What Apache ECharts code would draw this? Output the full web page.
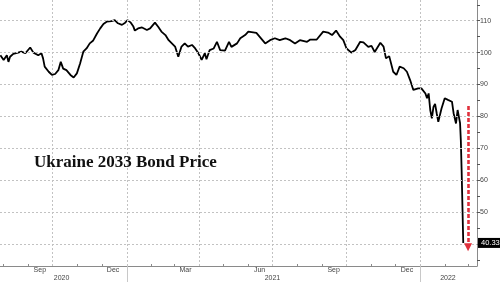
<!DOCTYPE html>
<html><head><meta charset="utf-8">
<script src="https://cdn.jsdelivr.net/npm/echarts@6/dist/echarts.min.js"></script>
<style>html,body{margin:0;padding:0;background:#fff}#c{width:500px;height:282px}</style>
</head><body><div id="c"></div>
<script>
const dates = [
'2020-07-28','2020-08-01','2020-08-05','2020-08-07','2020-08-09','2020-08-13','2020-08-19','2020-08-23','2020-08-28',
'2020-09-03','2020-09-07','2020-09-13','2020-09-17','2020-09-19','2020-09-21','2020-09-26','2020-09-30',
'2020-10-04','2020-10-08','2020-10-11','2020-10-14','2020-10-18','2020-10-23','2020-10-27','2020-10-31',
'2020-11-04','2020-11-08','2020-11-12','2020-11-16','2020-11-20','2020-11-25','2020-11-29',
'2020-12-03','2020-12-07','2020-12-13','2020-12-17','2020-12-21','2020-12-26','2020-12-30',
'2021-01-02','2021-01-06','2021-01-09','2021-01-11','2021-01-15','2021-01-20','2021-01-26','2021-01-30',
'2021-02-05','2021-02-09','2021-02-13','2021-02-18','2021-02-22','2021-02-26',
'2021-03-02','2021-03-06','2021-03-10','2021-03-14','2021-03-18','2021-03-23','2021-03-27','2021-03-31',
'2021-04-04','2021-04-08','2021-04-10','2021-04-14','2021-04-19','2021-04-23','2021-04-27',
'2021-05-03','2021-05-08','2021-05-11','2021-05-18','2021-05-22','2021-05-28',
'2021-06-01','2021-06-03','2021-06-11','2021-06-22','2021-06-28',
'2021-07-04','2021-07-10','2021-07-17','2021-07-23','2021-07-29',
'2021-08-04','2021-08-13','2021-08-17','2021-08-25',
'2021-09-02','2021-09-08','2021-09-13','2021-09-18','2021-09-23','2021-09-27',
'2021-10-01','2021-10-07','2021-10-12','2021-10-18','2021-10-22','2021-10-28',
'2021-11-01','2021-11-05','2021-11-12','2021-11-16','2021-11-19','2021-11-23','2021-11-28',
'2021-12-02','2021-12-06','2021-12-11','2021-12-15','2021-12-19','2021-12-23','2021-12-29',
'2022-01-02','2022-01-07','2022-01-09','2022-01-11','2022-01-13','2022-01-15','2022-01-17','2022-01-19',
'2022-01-21','2022-01-23','2022-01-25','2022-01-27','2022-01-31',
'2022-02-04','2022-02-09','2022-02-11','2022-02-14','2022-02-16','2022-02-19','2022-02-20','2022-02-21','2022-02-23'
];
const prices = [
99.2,97.7,99.2,97.1,98.7,99.6,100.0,100.3,99.8,
101.6,100.0,99.2,99.8,98.2,95.6,94.0,93.0,
93.3,94.5,97.1,95.0,94.5,93.0,92.2,93.5,
96.6,100.3,101.3,102.9,103.7,106.0,107.6,
109.0,109.7,109.9,110.2,109.2,108.7,109.4,
110.2,109.4,108.3,106.9,107.6,107.9,107.1,107.6,
109.4,108.1,106.6,105.5,103.9,102.9,
101.9,98.7,101.9,102.9,101.9,102.4,101.3,99.8,
97.7,99.8,97.9,100.8,101.3,103.4,100.8,
100.6,103.4,101.8,102.9,104.5,105.5,
106.6,106.0,106.2,102.9,103.9,
104.5,103.9,104.5,103.9,102.9,
103.9,103.4,104.1,104.1,
106.6,106.3,105.5,106.9,105.0,103.9,
101.3,100.0,100.8,103.4,103.2,101.8,
102.1,100.2,103.1,101.9,98.2,98.9,94.0,
93.0,95.6,95.1,94.0,91.4,88.3,88.8,
88.8,87.2,85.7,87.2,82.0,79.4,83.0,83.9,
81.0,78.3,78.8,82.5,85.7,
85.2,84.6,81.0,77.8,82.0,78.0,72.5,63.0,40.333
];
const lastValue = 40.333;
const xMin = '2020-07-27T12:00:00';
const xMax = '2022-03-12T02:00:00';
const yMin = 33.1, yMax = 116.5;
const yLabelValues = [40,50,60,70,80,90,100,110];
const yTickValues = [35,40,45,50,55,60,65,70,75,80,85,90,95,100,105,110,115];
const monthTickDates = ['2020-08-01','2020-09-01','2020-10-01','2020-11-01','2020-12-01','2021-01-01','2021-02-01','2021-03-01','2021-04-01','2021-05-01','2021-06-01','2021-07-01','2021-08-01','2021-09-01','2021-10-01','2021-11-01','2021-12-01','2022-01-01','2022-02-01','2022-03-01'];
const quarterLineDates = ['2020-10-01','2021-01-01','2021-04-01','2021-07-01','2021-10-01','2022-01-01'];
const monthLabelDates = ['2020-09-15','2020-12-15','2021-03-15','2021-06-15','2021-09-15','2021-12-15'];
const monthLabelNames = ['Sep','Dec','Mar','Jun','Sep','Dec'];
const yearSepDates = ['2021-01-01','2022-01-01'];
const yearLabelDates = ['2020-10-12','2021-07-01','2022-02-04'];
const yearLabelNames = ['2020','2021','2022'];
const arrowDate = '2022-03-01';
const arrowFrom = 83.3, arrowTo = 39.0;
const titleText = 'Ukraine 2033 Bond Price';

const ts = s => new Date(s + (s.length === 10 ? 'T00:00:00' : '')).getTime();
const seriesData = dates.map((d, i) => [ts(d), prices[i]]);
const monthLabelTs = monthLabelDates.map(ts);
const yearLabelTs = yearLabelDates.map(ts);
const X0 = ts(xMin), X1 = ts(xMax);
const gx0 = X0 + 1000, gx1 = X1 - 1000, gy0 = yMin + 0.001, gy1 = yMax - 0.001;
const gridStyle = {color: '#c2c2c2', width: 1, type: [2, 2], opacity: 1};
const gridLines = yLabelValues.map(v => [{coord: [gx0, v]}, {coord: [gx1, v]}])
  .concat(quarterLineDates.map(d => [{coord: [ts(d), gy0]}, {coord: [ts(d), gy1]}]));

const chart = echarts.init(document.getElementById('c'), null, {renderer: 'canvas'});
chart.setOption({
  animation: false,
  backgroundColor: '#fff',
  grid: {left: 0, right: 23, top: 0, bottom: 16, containLabel: false},
  xAxis: [{
    type: 'value', min: X0, max: X1, position: 'bottom',
    axisLine: {show: true, onZero: false, lineStyle: {color: '#8a8a8a', width: 1}},
    axisTick: {show: true, inside: true, length: 2, customValues: monthTickDates.map(ts), lineStyle: {color: '#8a8a8a'}},
    axisLabel: {show: true, customValues: monthLabelTs, margin: 1, fontSize: 7, color: '#444', fontFamily: 'Liberation Sans',
      formatter: v => monthLabelNames[monthLabelTs.indexOf(v)] || ''},
    splitLine: {show: false}
  }, {
    type: 'value', min: X0, max: X1, position: 'bottom', gridIndex: 0,
    axisLine: {show: false, onZero: false},
    axisTick: {show: true, inside: false, length: 16, customValues: yearSepDates.map(ts), lineStyle: {color: '#c8c8c8'}},
    axisLabel: {show: true, customValues: yearLabelTs, margin: 9, fontSize: 7, color: '#444', fontFamily: 'Liberation Sans',
      formatter: v => yearLabelNames[yearLabelTs.indexOf(v)] || ''},
    splitLine: {show: false}
  }],
  yAxis: {
    type: 'value', position: 'right', min: yMin, max: yMax,
    axisLine: {show: true, lineStyle: {color: '#8a8a8a', width: 1}},
    axisTick: {show: true, inside: false, length: 3, customValues: yTickValues, lineStyle: {color: '#555'}},
    axisLabel: {show: true, customValues: yLabelValues, margin: 3, fontSize: 7, color: '#444', fontFamily: 'Liberation Sans'},
    splitLine: {show: false}
  },
  graphic: [{
    type: 'text', left: 34, top: 154, z: 10,
    style: {text: titleText, fontFamily: 'Liberation Serif', fontWeight: 'bold', fontSize: 17, fill: '#111'}
  }],
  series: [{
    type: 'line', data: [], silent: true,
    markLine: {silent: true, symbol: ['none', 'none'], label: {show: false}, lineStyle: gridStyle, animation: false,
      data: gridLines}
  }, {
    type: 'line', data: seriesData, z: 3, showSymbol: false, symbol: 'none', silent: true,
    lineStyle: {color: '#000', width: 1.8}
  }, {
    type: 'line', data: [], z: 4, silent: true,
    markLine: {silent: true, animation: false, symbol: ['none', 'triangle'], symbolSize: 8,
      itemStyle: {color: '#e0303c'},
      lineStyle: {color: '#e0303c', width: 2.6, type: [4, 2], opacity: 1},
      label: {show: false},
      data: [[{coord: [ts(arrowDate), arrowFrom]}, {coord: [ts(arrowDate), arrowTo]}]]}
  }, {
    type: 'line', data: [], z: 5, silent: true,
    markLine: {silent: true, animation: false, symbol: ['none', 'none'],
      lineStyle: {width: 0, color: 'rgba(0,0,0,0)', opacity: 1},
      label: {show: true, position: 'end', distance: 1, formatter: String(lastValue), color: '#fff', backgroundColor: '#000',
        fontSize: 7.5, fontFamily: 'Liberation Sans', padding: [1, 3, 1, 3], opacity: 1},
      data: [[{coord: [gx0, lastValue]}, {coord: [X1 - 1000, lastValue]}]]}
  }]
});
</script></body></html>
